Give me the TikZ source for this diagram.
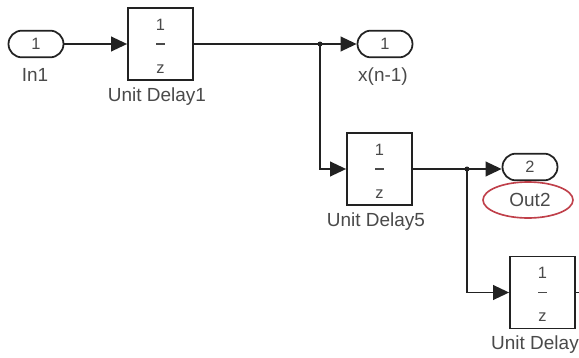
\documentclass[tikz,border=0pt]{standalone}
\usepackage{fontspec}
\setmainfont{Liberation Sans}
\usetikzlibrary{arrows.meta,shapes.geometric}
\definecolor{txtgray}{HTML}{4A4A4A}
\definecolor{linegray}{HTML}{222222}
\definecolor{ringred}{HTML}{C0404A}
\tikzset{
  port/.style={draw=linegray, line width=1.5pt, rounded corners=0.4cm, minimum width=1.65cm, minimum height=0.8cm, inner sep=0pt, text=txtgray, font=\fontsize{14}{15}\selectfont},
  delaybox/.style={draw=linegray, line width=1.5pt, minimum width=1.95cm, minimum height=2.16cm, inner sep=0pt},
  lbl/.style={text=txtgray, font=\fontsize{16.2}{18}\selectfont, inner sep=0pt},
  frac/.style={text=txtgray, font=\fontsize{14}{15}\selectfont, inner sep=0pt},
  wire/.style={draw=linegray, line width=1.5pt},
  arr/.style={wire, -{Triangle[length=0.48cm, width=0.44cm]}},
  jdot/.style={circle, fill=linegray, inner sep=0pt, minimum size=0.15cm}
}
\begin{document}
\begin{tikzpicture}[x=0.03cm, y=-0.03cm]
\useasboundingbox (0,0) rectangle (579,357);
\clip (0,0) rectangle (579,357);
\fill[white] (0,0) rectangle (579,357);

% ports
\node[port] (in1) at (36,44) {1};
\node[lbl] (in1l) at (35,75) {In1};
\node[port] (xout) at (385,44) {1};
\node[lbl] (xoutl) at (383,77) {x(n-1)};
\node[port] (out2) at (530,167) {2};
\node[lbl] (out2l) at (530,200) {Out2};
\node[draw=ringred, line width=1.4pt, ellipse, minimum width=2.7cm, minimum height=1.08cm] (ring) at (528,200) {};

% delay blocks
\node[delaybox] (ud1) at (160.5,44) {};
\node[lbl] (ud1l) at (157,97) {Unit Delay1};
\node[delaybox] (ud5) at (379.5,169) {};
\node[lbl] (ud5l) at (376,222) {Unit Delay5};
\node[delaybox] (ud6) at (542.5,292.5) {};
\node[lbl, anchor=west] (ud6l) at (491,345) {Unit Delay6};

% fraction contents 1/z
\foreach \b in {ud1,ud5,ud6}{
  \node[frac] at ([yshift=0.58cm]\b.center) {1};
  \draw[txtgray, line width=0.9pt] ([xshift=-0.13cm]\b.center) -- ([xshift=0.13cm]\b.center);
  \node[frac] at ([yshift=-0.74cm]\b.center) {z};
}

% junctions
\coordinate (j1) at (320,44);
\coordinate (j2) at (467,169);
\coordinate (tail) at (600,292.5);
\node[jdot] at (j1) {};
\node[jdot] at (j2) {};

% wires
\draw[arr] (in1.east) -- (ud1.west);
\draw[wire] (ud1.east) -- (j1);
\draw[arr] (j1) -- (xout.west);
\draw[arr] (j1) |- (ud5.west);
\draw[wire] (ud5.east) -- (j2);
\draw[arr] (j2) -- (out2.west |- j2);
\draw[arr] (j2) |- (ud6.west);
\draw[wire] (ud6.east) -- (tail);
\end{tikzpicture}
\end{document}
